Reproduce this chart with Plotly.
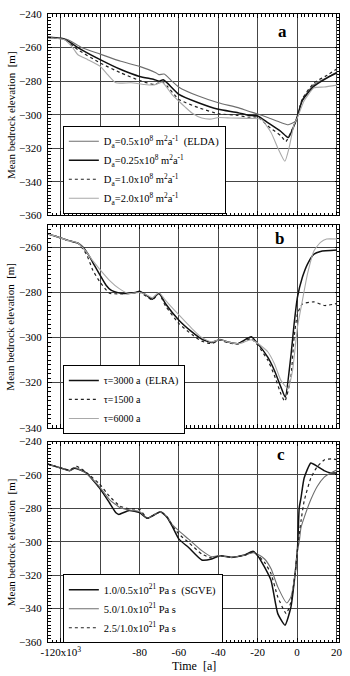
import plotly.graph_objects as go

# ---------------- data (time in 10^3 a, elevation in m) ----------------
# Panel a
a_elda_t = [-126.5, -119, -116.3, -111.3, -108.8, -100, -89.5, -80, -72, -70.2, -67.5, -64, -60, -50.1, -40, -30, -25, -20, -14.9, -8.2, -4.5, -0.6, 2.7, 8.6, 15.3, 20.3]
a_elda_v = [-253.6, -254.5, -255.4, -258.7, -260.3, -263.9, -268.2, -271.2, -274.8, -276.1, -275.8, -279.5, -283.6, -288.9, -292.9, -295.8, -297.8, -299.6, -301.7, -304.7, -306, -303.7, -291, -282, -277.8, -274.5]
a_025_t = [-126.5, -118.8, -114.6, -111.3, -100, -89.5, -80, -72.7, -70, -68, -66, -60, -50.1, -40, -30, -24.9, -20, -14.9, -8.2, -4.5, -0.6, 2.7, 8.6, 15.3, 20.3]
a_025_v = [-254, -254.8, -257.4, -260, -267.2, -273.1, -277.2, -279, -280, -279.2, -281, -287.9, -292.9, -296.8, -298.8, -300.3, -300.8, -304.7, -310, -313.6, -303.7, -291.5, -283, -278, -275]
a_10_t = [-126.5, -118.8, -111.3, -100, -89.5, -80, -72.7, -68.5, -66, -60, -50.1, -40, -30, -24.9, -20, -14.9, -8.2, -5.7, -3, -0.6, 2.7, 8.6, 15.3, 20.3]
a_10_v = [-254, -254.8, -261.3, -269.2, -275.1, -279.6, -282, -280.4, -283, -290.9, -295.8, -299.4, -300.4, -301.5, -301.4, -306.7, -312.6, -316, -310, -303.7, -290.5, -281, -276.5, -272.6]
a_20_t = [-126.5, -118, -113.8, -111.3, -106.3, -100, -96.2, -92, -84.4, -77.7, -72.7, -68.5, -63.5, -60, -56.8, -53.4, -48.4, -43.4, -40, -33.3, -23.2, -18.2, -13.2, -9.9, -6.2, -4, -1.5, 0.25, 3.6, 8.6, 13.7, 20.3]
a_20_v = [-254, -255.4, -260.3, -264.3, -267.2, -271.2, -276.1, -281, -281, -282, -282.3, -280.6, -288, -292, -295.5, -299, -302, -302.6, -301.7, -302, -302.2, -302.7, -310.6, -319.5, -327.7, -319.5, -305.7, -301.6, -291.7, -284, -283.5, -282.4]

# Panel b
b_3000_t = [-126.5, -121.4, -116.3, -111.3, -108.8, -106.3, -102.9, -100, -97, -94.5, -90, -87.8, -82, -80, -77, -73.5, -70.2, -66.8, -60, -53.4, -48.4, -43.4, -39.2, -35, -30, -23.3, -20, -14.9, -11.5, -8.2, -6, -3.2, -1.5, 0.2, 2.7, 5.3, 8.6, 11.9, 20.3]
b_3000_v = [-254, -255.4, -256.9, -258.1, -259.9, -262.8, -268, -272.4, -276.8, -279, -280.3, -280.5, -280, -279.5, -281, -283, -280.2, -285, -292.3, -297.5, -300.7, -302.2, -300.9, -302, -302.7, -299.7, -302.7, -308.7, -314.6, -322, -326.5, -308.7, -294, -282.1, -273.3, -267.4, -263, -261.8, -261.2]
b_1500_t = [-126.5, -121.4, -116.3, -111.3, -107, -103.7, -100.4, -95.3, -90, -85, -80, -77, -73.5, -70.2, -66.8, -60, -53.4, -48.4, -43.4, -39.2, -35, -30, -23.3, -20, -14.9, -11.5, -8.2, -6.2, -3.2, -1.5, 0.2, 2.7, 8.6, 14, 20.3]
b_1500_v = [-254, -255.4, -257, -258.1, -263, -270.2, -275, -280.3, -280.6, -280.5, -280, -281.5, -283.3, -280.5, -286, -293.8, -298.7, -301.6, -302.7, -301.2, -302.3, -303, -300.5, -303.4, -310, -316.8, -325, -328.3, -318, -300, -289.5, -285.1, -284.2, -285.8, -284.9]
b_6000_t = [-126.5, -121.4, -116.3, -111.3, -107, -103.7, -100.4, -95.3, -90.3, -85.3, -80.3, -77, -73.5, -70.2, -66.8, -60, -53.4, -48.4, -43.4, -39.2, -35, -30, -23.3, -20, -14.9, -11.5, -8.2, -4.6, -2.3, 0.2, 2.7, 5.3, 8.6, 11.9, 15, 20.3]
b_6000_v = [-254, -255.4, -257, -258.1, -262, -266, -269.5, -274.6, -278.3, -280.5, -280, -280.8, -282.4, -280, -283.5, -290, -296, -300, -302, -301, -302, -302.8, -301, -302.5, -306.3, -311.6, -319, -322.7, -314.6, -295.4, -283.6, -271.8, -261.5, -257.8, -256.3, -256.3]

# Panel c
c_sgve_t = [-126.5, -120, -115.5, -113, -110, -107, -100.4, -95.3, -92, -90.5, -85.3, -80, -76, -72, -69.3, -66, -63.5, -60, -55.1, -48.4, -43.4, -39.2, -33.3, -26.6, -22.4, -20, -16.5, -13.2, -9.8, -6.1, -3.1, -1, 0.25, 1.1, 2, 3.6, 7, 10.3, 13.7, 17, 20.3]
c_sgve_v = [-253.5, -255.8, -257.4, -256, -257, -258.8, -267.7, -276.6, -282.6, -283.6, -281.2, -282.5, -285.9, -283.5, -282, -285.5, -290.5, -298.4, -303.4, -310.9, -310.3, -308.3, -309.3, -307.9, -305.7, -308.3, -315.2, -323.2, -343, -349.9, -339, -319.2, -303.4, -279.6, -273.7, -261.8, -252.8, -254.9, -257.4, -258.8, -258.8]
c_50_t = [-126.5, -120, -115.5, -113, -110, -107, -100.4, -95.3, -90, -85.3, -80, -76, -72, -69.3, -66, -63.5, -60, -55.1, -48.4, -43.4, -39.2, -33.3, -26.6, -22.4, -20, -16.5, -13.2, -9.8, -5.2, -3.1, -1, 0.25, 1.1, 2, 3.6, 7, 10.3, 13.7, 17, 20.3]
c_50_v = [-253.5, -255.8, -257.4, -255.5, -257, -259, -267, -274.7, -279.4, -281, -281.8, -285.9, -283.5, -282, -285, -289.5, -293.5, -298.4, -305.3, -308.9, -308.3, -309.5, -308, -306.5, -307.5, -310.3, -316.2, -327, -336.6, -333, -319.2, -305, -300, -291.5, -285.5, -274.7, -266.7, -261.4, -258.8, -256.8]
c_25_t = [-126.5, -120, -115.5, -112, -110, -107, -100.4, -95.3, -90, -85.3, -80, -76, -72, -69.3, -66, -63.5, -60, -55.1, -48.4, -43.4, -39.2, -33.3, -26.6, -22.4, -20, -16.5, -13.2, -9.8, -5.5, -3.1, -1, 0.25, 1.1, 2, 3.6, 7, 10.3, 14, 17.8, 20.3]
c_25_v = [-253.5, -255.8, -257, -254.8, -256, -258.5, -265.3, -272.7, -278.6, -280.2, -280.6, -285.9, -283.5, -282, -285.2, -290, -295.4, -300.4, -307.3, -309.7, -308.3, -309.4, -308, -306, -308, -312.3, -319.2, -333, -343, -336, -319.2, -304, -295.4, -287.5, -275.6, -261.8, -254.9, -250.9, -250.3, -250.9]

# tick labels
x_tickvals = [-120, -100, -80, -60, -40, -20, 0, 20]
x_ticktext = ["-120x10<sup>3</sup>", "", "-80", "-60", "-40", "-20", "0", "20"]

# legend names
names_a = ["D<sub>a</sub>=0.5x10<sup>8</sup> m<sup>2</sup>a<sup>-1</sup>  (ELDA)",
           "D<sub>a</sub>=0.25x10<sup>8</sup> m<sup>2</sup>a<sup>-1</sup>",
           "D<sub>a</sub>=1.0x10<sup>8</sup> m<sup>2</sup>a<sup>-1</sup>",
           "D<sub>a</sub>=2.0x10<sup>8</sup> m<sup>2</sup>a<sup>-1</sup>"]
names_b = ["τ=3000 a  (ELRA)", "τ=1500 a", "τ=6000 a"]
names_c = ["1.0/0.5x10<sup>21</sup> Pa s  (SGVE)", "5.0/1.0x10<sup>21</sup> Pa s", "2.5/1.0x10<sup>21</sup> Pa s"]

# ---------------- styles ----------------
FONT = "Liberation Serif, DejaVu Serif, serif"
GRAY = dict(color="#6e6e6e", width=1.1)
BLACK = dict(color="#111111", width=1.5)
DOT = dict(color="#222222", width=1.2, dash="dot")
LIGHT = dict(color="#a9a9a9", width=1.1)

fig = go.Figure()

def add(t, v, name, line, ax, leg):
    fig.add_trace(go.Scatter(x=t, y=v, name=name, mode="lines",
                             line=dict(shape="spline", smoothing=0.5, **line),
                             xaxis="x" + ax, yaxis="y" + ax, legend=leg))

add(a_elda_t, a_elda_v, names_a[0], GRAY, "", "legend")
add(a_025_t, a_025_v, names_a[1], BLACK, "", "legend")
add(a_10_t, a_10_v, names_a[2], DOT, "", "legend")
add(a_20_t, a_20_v, names_a[3], LIGHT, "", "legend")

add(b_3000_t, b_3000_v, names_b[0], BLACK, "2", "legend2")
add(b_1500_t, b_1500_v, names_b[1], DOT, "2", "legend2")
add(b_6000_t, b_6000_v, names_b[2], LIGHT, "2", "legend2")

add(c_sgve_t, c_sgve_v, names_c[0], BLACK, "3", "legend3")
add(c_50_t, c_50_v, names_c[1], GRAY, "3", "legend3")
add(c_25_t, c_25_v, names_c[2], DOT, "3", "legend3")

W, H = 350, 676
ML, MR, MT, MB = 48, 8, 9, 34
PH = H - MT - MB
PW = W - ML - MR

def ydom(top_px, bot_px):
    return [(H - MB - bot_px) / PH, (H - MB - top_px) / PH]

def py2paper(py):
    return (H - MB - py) / PH

def px2paper(px):
    return (px - ML) / PW

common_x = dict(range=[-126.5, 21.3], tickmode="array", tickvals=x_tickvals, ticktext=x_ticktext,
                showgrid=True, gridcolor="#454545", gridwidth=1, zeroline=False,
                showline=True, linecolor="black", linewidth=1, mirror="allticks",
                ticks="inside", ticklen=4, tickcolor="black",
                minor=dict(tickmode="linear", tick0=0, dtick=2, ticks="inside", ticklen=2.5,
                           tickcolor="black", showgrid=False),
                tickfont=dict(family=FONT, size=11, color="black"))
common_y = dict(tickmode="linear", tick0=-240, dtick=20,
                showgrid=True, gridcolor="#454545", gridwidth=1, zeroline=False,
                showline=True, linecolor="black", linewidth=1, mirror="allticks",
                ticks="inside", ticklen=4, tickcolor="black",
                minor=dict(tickmode="linear", tick0=-240, dtick=2, ticks="inside", ticklen=2.5,
                           tickcolor="black", showgrid=False),
                tickfont=dict(family=FONT, size=11, color="black"), ticklabelstandoff=3)

da = ydom(9, 212)
db = ydom(221.5, 426)
dc = ydom(440, 642)

legend_common = dict(xanchor="left", yanchor="middle", bgcolor="white", bordercolor="black",
                     borderwidth=1, itemwidth=30, tracegroupgap=0)

fig.update_layout(
    width=W, height=H, margin=dict(l=ML, r=MR, t=MT, b=MB),
    paper_bgcolor="white", plot_bgcolor="white",
    font=dict(family=FONT, size=12, color="black"),
    xaxis=dict(common_x, domain=[0, 1], anchor="y", showticklabels=False),
    yaxis=dict(common_y, domain=da, range=[-360, -240], anchor="x"),
    xaxis2=dict(common_x, domain=[0, 1], anchor="y2", showticklabels=False),
    yaxis2=dict(common_y, domain=db, range=[-340, -250], anchor="x2"),
    xaxis3=dict(common_x, domain=[0, 1], anchor="y3", showticklabels=True, ticklabelstandoff=0),
    yaxis3=dict(common_y, domain=dc, range=[-360, -240], anchor="x3"),
    legend=dict(legend_common, x=px2paper(63), y=py2paper(166), font=dict(family=FONT, size=10.5)),
    legend2=dict(legend_common, x=px2paper(63), y=py2paper(397.5), font=dict(family=FONT, size=10)),
    legend3=dict(legend_common, x=px2paper(63), y=py2paper(608.5), font=dict(family=FONT, size=10.5)),
    showlegend=True,
)

ann = []
for (top, bot) in [(9, 212), (221.5, 426), (440, 642)]:
    ann.append(dict(text="Mean bedrock elevation  [m]", textangle=-90, xref="paper", yref="paper",
                    x=px2paper(10), y=py2paper((top + bot) / 2), xanchor="center", yanchor="middle",
                    showarrow=False, font=dict(family=FONT, size=11)))
for lab, (px, py) in zip(["a", "b", "c"], [(285, 27), (282, 235), (283, 453)]):
    ann.append(dict(text="<b>%s</b>" % lab, xref="paper", yref="paper",
                    x=px2paper(px), y=py2paper(py), xanchor="center", yanchor="middle",
                    showarrow=False, font=dict(family=FONT, size=17)))
ann.append(dict(text="Time  [a]", xref="paper", yref="paper", x=px2paper(195), y=py2paper(666),
                xanchor="center", yanchor="middle", showarrow=False, font=dict(family=FONT, size=12)))
fig.update_layout(annotations=ann)

fig.write_html("out.html", config={"displayModeBar": False},
               post_script="document.body.style.margin='0px';")
